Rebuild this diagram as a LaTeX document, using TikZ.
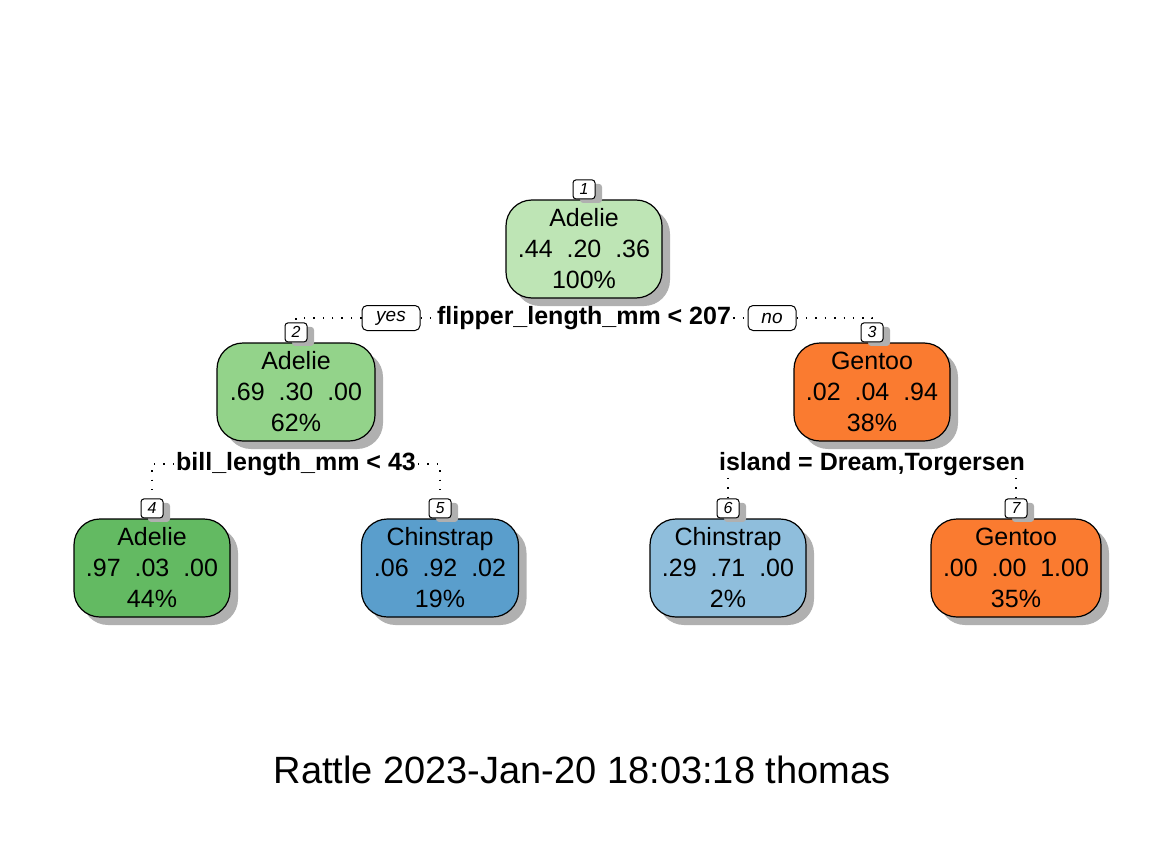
\documentclass[tikz,border=0pt]{standalone}
\usepackage{fontspec}
\setmainfont{Liberation Sans}
\usetikzlibrary{shadows}
\definecolor{adelieA}{RGB}{190,229,181}
\definecolor{adelieB}{RGB}{147,211,138}
\definecolor{adelieC}{RGB}{99,186,98}
\definecolor{chinA}{RGB}{90,158,204}
\definecolor{chinB}{RGB}{143,190,220}
\definecolor{gentoo}{RGB}{250,123,48}
\tikzset{
  leafbox/.style={draw=black,line width=1.2pt,rounded corners=26pt,minimum width=156pt,minimum height=98pt,inner sep=0pt,align=center,font=\fontsize{25}{31}\selectfont,drop shadow={shadow xshift=8pt,shadow yshift=-8pt,fill=gray!62,opacity=1}},
  numbox/.style={draw=black,fill=white,line width=1pt,rounded corners=3pt,minimum width=22pt,minimum height=19pt,inner sep=0pt,font=\fontsize{16}{16}\selectfont\itshape,anchor=south,drop shadow={shadow xshift=7pt,shadow yshift=-4pt,fill=gray!62,opacity=1}},
  ynbox/.style={draw=black,fill=white,line width=1pt,rounded corners=5pt,minimum height=25pt,inner sep=0pt,font=\fontsize{19}{19}\selectfont\itshape},
  splitlbl/.style={inner sep=2pt,font=\fontsize{25}{25}\selectfont\bfseries},
  dotline/.style={line width=1.4pt,dash pattern=on 1.4pt off 8pt}
}
\begin{document}
\begin{tikzpicture}[x=1pt,y=1pt,yscale=-1,xscale=1]
\useasboundingbox (0,0) rectangle (1174,840);

% Tree Nodes
\node[leafbox,fill=adelieA] (n1) at (584,249) {Adelie\\.44~~.20~~.36\\100\%};
\node[leafbox,fill=adelieB,minimum width=158pt] (n2) at (296,392) {Adelie\\.69~~.30~~.00\\62\%};
\node[leafbox,fill=gentoo] (n3) at (872,392) {Gentoo\\.02~~.04~~.94\\38\%};
\node[leafbox,fill=adelieC] (n4) at (152,568) {Adelie\\.97~~.03~~.00\\44\%};
\node[leafbox,fill=chinA,minimum width=157pt] (n5) at (440,568) {Chinstrap\\.06~~.92~~.02\\19\%};
\node[leafbox,fill=chinB] (n6) at (728,568) {Chinstrap\\.29~~.71~~.00\\2\%};
\node[leafbox,fill=gentoo,minimum width=170pt] (n7) at (1016,568) {Gentoo\\.00~~.00~~1.00\\35\%};

% Number Labels
\node[numbox] (l1) at (n1.north) {1};
\node[numbox] (l2) at (n2.north) {2};
\node[numbox] (l3) at (n3.north) {3};
\node[numbox] (l4) at (n4.north) {4};
\node[numbox] (l5) at (n5.north) {5};
\node[numbox] (l6) at (n6.north) {6};
\node[numbox] (l7) at (n7.north) {7};

% Split Labels
\node[splitlbl] (s1) at (584,318) {flipper\_length\_mm < 207};
\node[ynbox,minimum width=58pt] (yes) at (391,318) {yes};
\node[ynbox,minimum width=48pt] (no) at (772,318) {no};
\node[splitlbl] (s2) at (296,464) {bill\_length\_mm < 43};
\node[splitlbl] (s3) at (872,464) {island = Dream,Torgersen};

%Dotted Lines
\draw[dotline] (yes.west) -| (l2.north);
\draw[dotline] (yes.east) -- (s1.west);
\draw[dotline] (s1.east) -- (no.west);
\draw[dotline] (no.east) -| (l3.north);
\draw[dotline] (s2.west) -| (l4.north);
\draw[dotline] (s2.east) -| (l5.north);
\draw[dotline] (s3.south -| l6.north) -- (l6.north);
\draw[dotline] (s3.south -| l7.north) -- (l7.north);

% Text Node
\node[font=\fontsize{38}{38}\selectfont] (title) at (582,770) {Rattle 2023-Jan-20 18:03:18 thomas};

\end{tikzpicture}
\end{document}
